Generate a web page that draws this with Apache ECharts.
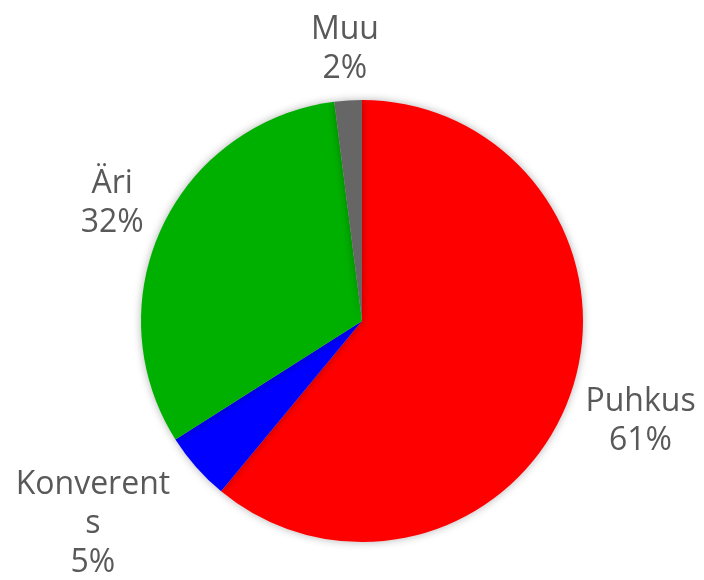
<!DOCTYPE html>
<html><head><meta charset="utf-8">
<script src="https://cdn.jsdelivr.net/npm/echarts@6/dist/echarts.min.js"></script>
<style>html,body{margin:0;padding:0;background:#fff}#c{width:704px;height:580px}</style>
</head><body><div id="c"></div>
<script>
const categories = ['Puhkus', 'Konverents', 'Äri', 'Muu'];
const values = [61, 5, 32, 2];
const colors = ['#FF0000', '#0000FF', '#00B000', '#666666'];

const CX = 362, CY = 321, R = 221, GAP = 10, BOTTOM = 582;
const total = values.reduce((a, b) => a + b, 0);

const chart = echarts.init(document.getElementById('c'));
chart.setOption({
  animation: false,
  series: [{
    type: 'pie',
    center: [CX, CY],
    radius: R,
    startAngle: 90,
    clockwise: true,
    data: categories.map((n, i) => ({
      name: n, value: values[i],
      itemStyle: { color: colors[i] },
      label: n === 'Konverents' ? { width: 160, overflow: 'breakAll' } : {}
    })),
    itemStyle: { shadowBlur: 8, shadowColor: 'rgba(0,0,0,0.3)' },
    label: {
      show: true, position: 'outside',
      formatter: '{b}\n{d}%',
      fontFamily: 'Open Sans', fontSize: 32, lineHeight: 39,
      color: '#595959', align: 'center', overflow: 'none'
    },
    labelLine: { show: false },
    labelLayout: function (p) {
      let cum = 0;
      for (let i = 0; i < p.dataIndex; i++) cum += values[i];
      const mid = (cum + values[p.dataIndex] / 2) / total * 2 * Math.PI;
      const sx = Math.sin(mid), sy = -Math.cos(mid);
      const w = p.labelRect.width, h = p.labelRect.height;
      const d = R + GAP + Math.abs(sx) * w / 2 + Math.abs(sy) * h / 2;
      let x = CX + sx * d, y = CY + sy * d;
      const over = y + h / 2 - BOTTOM;
      if (over > 0) {
        y -= over;
        x += Math.sign(sx) * over * 1.4;
      }
      return { x: x, y: y, align: 'center', verticalAlign: 'middle' };
    }
  }]
});
</script></body></html>
